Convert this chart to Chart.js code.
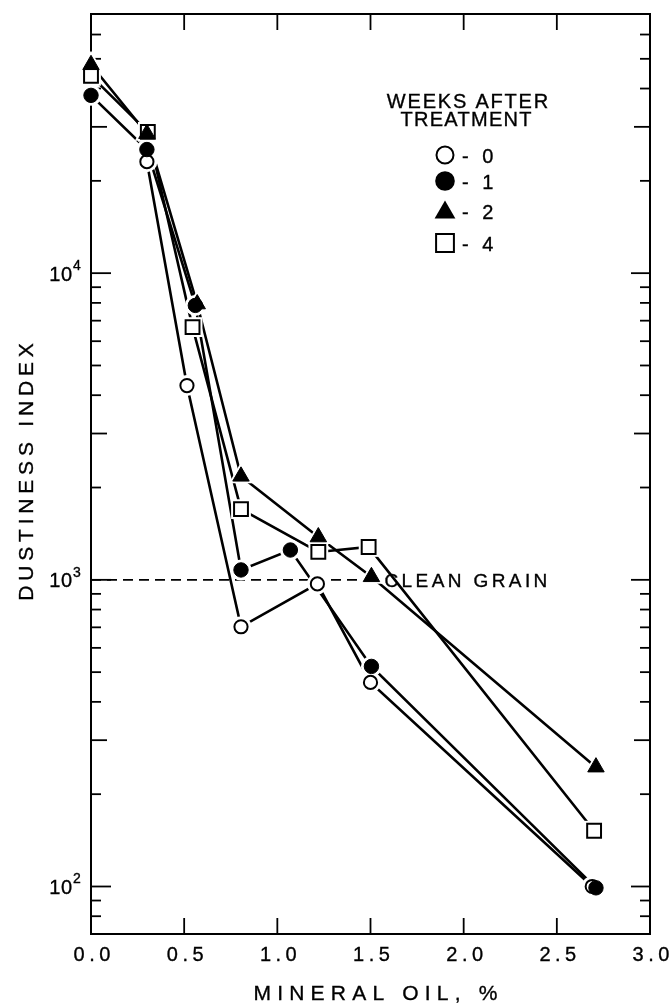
<!DOCTYPE html>
<html>
<head>
<meta charset="utf-8">
<script src="https://cdn.jsdelivr.net/npm/chart.js@4.4.1/dist/chart.umd.min.js"></script>
<style>
html,body{margin:0;padding:0;background:#ffffff;}
#wrap{width:672px;height:1004px;position:relative;}
</style>
</head>
<body>
<div id="wrap"><canvas id="c"></canvas></div>
<script>
// ---- data ----
const seriesLabels = ['0', '1', '2', '4'];
const week0X = [0.30, 0.515, 0.805, 1.215, 1.50, 2.69];
const week0Y = [23100, 4300, 703, 970, 463, 100];
const week1X = [0.0, 0.30, 0.56, 0.805, 1.07, 1.505, 2.71];
const week1Y = [38000, 25300, 7850, 1077, 1251, 522, 99];
const week2X = [0.0, 0.30, 0.57, 0.805, 1.22, 1.505, 2.71];
const week2Y = [47800, 28500, 7930, 2175, 1379, 1023, 245];
const week4X = [0.0, 0.305, 0.545, 0.805, 1.22, 1.49, 2.70];
const week4Y = [44000, 28900, 6670, 1700, 1233, 1280, 152];
const cleanGrainX = [0.0, 1.5];
const cleanGrainY = [1000, 1000];
const cleanGrainLabel = 'CLEAN GRAIN';
const xTickValues = [0.0, 0.5, 1.0, 1.5, 2.0, 2.5, 3.0];
const xTickLabels = ['0.0', '0.5', '1.0', '1.5', '2.0', '2.5', '3.0'];
const yDecadeValues = [100, 1000, 10000];
const yDecadeExponents = ['2', '3', '4'];
const yMinorBases = [10, 100, 1000, 10000];
const yMinorMultipliers = [2, 3, 4, 5, 6, 7, 8, 9];
const xTitle = 'MINERAL OIL, %';
const yTitle = 'DUSTINESS INDEX';
const legendTitle = ['WEEKS AFTER', 'TREATMENT'];

const FONT = '"Liberation Sans", Arial, sans-serif';

function pts(xs, ys) { return xs.map((x, i) => ({ x: x, y: ys[i] })); }

const seriesDefs = [
  { xs: week0X, ys: week0Y, style: 'circle',   fill: '#ffffff', r: 6.6, halo: 10.5, border: 2, order: 13 },
  { xs: week1X, ys: week1Y, style: 'circle',   fill: '#000000', r: 7.2, halo: 10.5, border: 1, order: 12 },
  { xs: week2X, ys: week2Y, style: 'triangle', fill: '#000000', r: 9.5, halo: 14,   border: 1, order: 10 },
  { xs: week4X, ys: week4Y, style: 'rect',     fill: '#ffffff', r: 9.8, halo: 14,   border: 2, order: 11 }
];

const datasets = [];
datasets.push({
  label: cleanGrainLabel, data: pts(cleanGrainX, cleanGrainY), showLine: true,
  borderColor: '#000', borderWidth: 1.7, borderDash: [10, 6], pointRadius: 0, order: 50, clip: false
});
seriesDefs.forEach((s, i) => {
  datasets.push({
    label: seriesLabels[i] + ' line', data: pts(s.xs, s.ys), showLine: true,
    borderColor: '#000', borderWidth: 2.6, pointRadius: 0, order: 40, clip: false, tension: 0
  });
  datasets.push({
    label: seriesLabels[i] + ' halo', data: pts(s.xs, s.ys), showLine: false,
    pointStyle: s.style, pointRadius: s.halo, pointBackgroundColor: '#fff', pointBorderColor: '#fff',
    pointBorderWidth: 0, order: 20, clip: false
  });
  datasets.push({
    label: seriesLabels[i], data: pts(s.xs, s.ys), showLine: false,
    pointStyle: s.style, pointRadius: s.r, pointBackgroundColor: s.fill, pointBorderColor: '#000',
    pointBorderWidth: s.border, order: s.order, clip: false
  });
});

function spaced(ctx, text, x, y, spacing, align) {
  ctx.letterSpacing = spacing + 'px';
  ctx.textAlign = 'left';
  const w = ctx.measureText(text).width - spacing;
  let lx = x;
  if (align === 'center') lx = x - w / 2;
  else if (align === 'right') lx = x - w;
  ctx.fillText(text, lx, y);
  ctx.strokeText(text, lx, y);
  ctx.letterSpacing = '0px';
}

function markerPath(ctx, style, x, y, r) {
  ctx.beginPath();
  if (style === 'circle') {
    ctx.arc(x, y, r, 0, Math.PI * 2);
  } else if (style === 'triangle') {
    for (let k = 0; k < 3; k++) {
      const a = k * 2 * Math.PI / 3;
      const px = x + Math.sin(a) * r, py = y - Math.cos(a) * r;
      if (k === 0) ctx.moveTo(px, py); else ctx.lineTo(px, py);
    }
    ctx.closePath();
  } else {
    const h = r * Math.SQRT1_2;
    ctx.rect(x - h, y - h, 2 * h, 2 * h);
  }
}

const framePlugin = {
  id: 'frame',
  beforeDatasetsDraw(chart) {
    const ctx = chart.ctx, a = chart.chartArea, xs = chart.scales.x, ys = chart.scales.y;
    ctx.save();
    ctx.strokeStyle = '#000';
    ctx.lineWidth = 2;
    ctx.strokeRect(a.left, a.top, a.right - a.left, a.bottom - a.top);
    ctx.lineWidth = 1.8;
    const seg = (x1, y1, x2, y2) => { ctx.beginPath(); ctx.moveTo(x1, y1); ctx.lineTo(x2, y2); ctx.stroke(); };
    xTickValues.forEach(v => {
      if (v <= xs.min || v >= xs.max) return;
      const px = xs.getPixelForValue(v);
      seg(px, a.bottom, px, a.bottom - 16);
      seg(px, a.top, px, a.top + 16);
    });
    yMinorBases.forEach(b => yMinorMultipliers.forEach(m => {
      const v = b * m;
      if (v <= ys.min || v >= ys.max) return;
      const py = ys.getPixelForValue(v);
      const len = m === 3 ? 16 : 10;
      seg(a.left, py, a.left + len, py);
      seg(a.right, py, a.right - len, py);
    }));
    yDecadeValues.forEach(v => {
      const py = ys.getPixelForValue(v);
      seg(a.left, py, a.left + 20, py);
      seg(a.right, py, a.right - 19, py);
    });
    ctx.restore();
  },
  afterDraw(chart) {
    const ctx = chart.ctx, a = chart.chartArea, xs = chart.scales.x, ys = chart.scales.y;
    ctx.save();
    ctx.fillStyle = '#000';
    ctx.strokeStyle = '#000';
    ctx.lineWidth = 0.35;
    ctx.textBaseline = 'alphabetic';
    // x tick labels
    ctx.font = '20px ' + FONT;
    xTickValues.forEach((v, i) => {
      spaced(ctx, xTickLabels[i], xs.getPixelForValue(v) + 1, a.bottom + 27, 4.5, 'center');
    });
    // x title
    ctx.font = '21px ' + FONT;
    spaced(ctx, xTitle, (a.left + a.right) / 2 + 5, a.bottom + 66, 6.2, 'center');
    // y decade labels
    yDecadeValues.forEach((v, i) => {
      const py = ys.getPixelForValue(v);
      ctx.font = '20px ' + FONT;
      spaced(ctx, '10', a.left - 19, py + 7.5, 0.5, 'right');
      ctx.font = '14px ' + FONT;
      spaced(ctx, yDecadeExponents[i], a.left - 18, py - 3, 0, 'left');
    });
    // y title
    ctx.save();
    ctx.translate(33, 472);
    ctx.rotate(-Math.PI / 2);
    ctx.font = '21px ' + FONT;
    spaced(ctx, yTitle, 0, 0, 4.8, 'center');
    ctx.restore();
    // clean grain label
    ctx.font = '19px ' + FONT;
    spaced(ctx, cleanGrainLabel, xs.getPixelForValue(cleanGrainX[1]) + 14, ys.getPixelForValue(cleanGrainY[1]) + 7, 3.4, 'left');
    // legend
    ctx.font = '20px ' + FONT;
    spaced(ctx, legendTitle[0], 467.5, 107.5, 1.8, 'center');
    spaced(ctx, legendTitle[1], 466, 126, 1.3, 'center');
    const rows = [155, 181, 211, 243];
    const lg = [
      { style: 'circle', r: 8.5, fill: false },
      { style: 'circle', r: 9.8, fill: true },
      { style: 'triangle', r: 12, fill: true },
      { style: 'rect', r: 12.6, fill: false }
    ];
    seriesLabels.forEach((lab, i) => {
      const yc = rows[i];
      const m = lg[i];
      markerPath(ctx, m.style, 445, m.style === 'triangle' ? yc + 1.5 : yc, m.r);
      ctx.lineWidth = 2;
      if (m.fill) { ctx.fill(); } else { ctx.fillStyle = '#fff'; ctx.fill(); ctx.fillStyle = '#000'; ctx.stroke(); }
      ctx.lineWidth = 0.35;
      ctx.font = '20px ' + FONT;
      spaced(ctx, '- ' + lab, 462, yc + 7.5, 4, 'left');
    });
    ctx.restore();
  }
};

new Chart(document.getElementById('c'), {
  type: 'scatter',
  data: { datasets: datasets },
  options: {
    responsive: true,
    maintainAspectRatio: false,
    devicePixelRatio: 1,
    animation: false,
    events: [],
    layout: { padding: { top: 13, right: 22, left: 0, bottom: 0 } },
    plugins: { legend: { display: false }, tooltip: { enabled: false } },
    scales: {
      x: {
        type: 'linear', min: 0, max: 3,
        ticks: { display: false }, grid: { display: false }, border: { display: false },
        afterFit(scale) { scale.height = 70; }
      },
      y: {
        type: 'logarithmic', min: 70, max: 70000,
        ticks: { display: false }, grid: { display: false }, border: { display: false },
        afterFit(scale) { scale.width = 91; }
      }
    }
  },
  plugins: [framePlugin]
});
</script>
</body>
</html>
